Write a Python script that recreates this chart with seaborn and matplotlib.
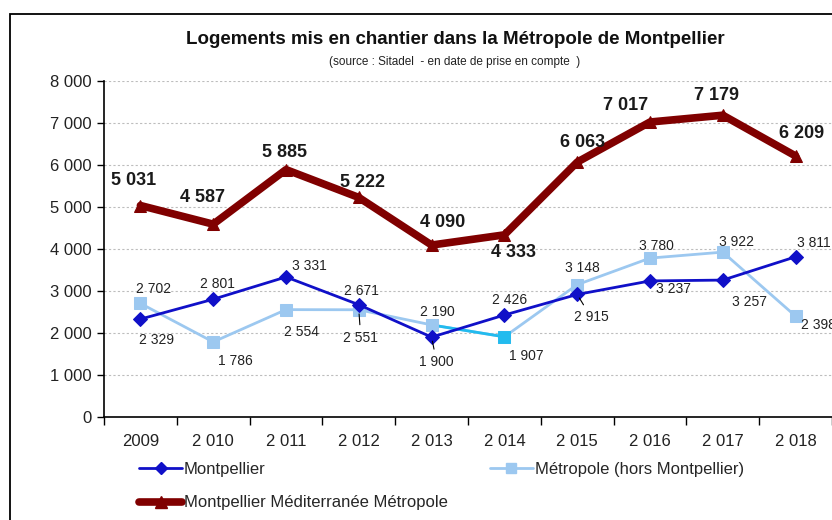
import matplotlib
matplotlib.use('Agg')
import matplotlib.pyplot as plt
from matplotlib.patches import Rectangle
from matplotlib.lines import Line2D
import seaborn as sns
import numpy as np

# Data
years = ["2009", "2010", "2011", "2012", "2013", "2014", "2015", "2016", "2017", "2018"]
year_labels = ["2009", "2 010", "2 011", "2 012", "2 013", "2 014", "2 015", "2 016", "2 017", "2 018"]
montpellier = [2329, 2801, 3331, 2671, 1900, 2426, 2915, 3237, 3257, 3811]
metropole_hors = [2702, 1786, 2554, 2551, 2190, 1907, 3148, 3780, 3922, 2398]
mmm = [5031, 4587, 5885, 5222, 4090, 4333, 6063, 7017, 7179, 6209]
y_ticks = [0, 1000, 2000, 3000, 4000, 5000, 6000, 7000, 8000]
y_tick_labels = ["0", "1 000", "2 000", "3 000", "4 000", "5 000", "6 000", "7 000", "8 000"]

# label offsets in pixels (dx, dy) and leader-line flags
off_mtp = [(16, -21), (4, 15), (23, 11), (3, 14), (5, -25), (5, 15), (14, -23), (23, -8), (27, -22), (18, 14)]
lead_mtp = [False, False, False, False, True, False, True, False, False, False]
off_met = [(13, 14), (22, -19), (16, -22), (2, -28), (6, 13), (22, -19), (5, 17), (6, 12), (14, 10), (23, -9)]
lead_met = [False, False, False, True, False, False, False, False, False, False]
off_mmm = [(-7, 25), (-11, 27), (-2, 17), (4, 15), (11, 23), (9, -18), (5, 20), (-24, 17), (-6, 20), (6, 22)]

c_mtp = '#1010C8'
c_met = '#9CC8F0'
c_cyan = '#22BBEE'
c_mmm = '#800000'


def fmt(v):
    return f"{v:,}".replace(",", " ")


sns.set_theme(style="white")
plt.rcParams['font.family'] = ['Liberation Sans Narrow', 'Liberation Sans', 'DejaVu Sans']

fig = plt.figure(figsize=(8.32, 5.2), dpi=100)
ax = fig.add_axes([104 / 832, 1 - 417 / 520, 1 - 104 / 832, (417 - 80.7) / 520])

x = np.arange(len(years))

sns.lineplot(x=x, y=mmm, ax=ax, color=c_mmm, lw=5.5, marker='^', markersize=9,
             markeredgecolor=c_mmm, zorder=4)
sns.lineplot(x=x, y=metropole_hors, ax=ax, color=c_met, lw=2, marker='s', markersize=8,
             markeredgecolor=c_met, zorder=2)
sns.lineplot(x=x[4:6], y=metropole_hors[4:6], ax=ax, color=c_cyan, lw=2, zorder=2.1)
sns.scatterplot(x=x[5:6], y=metropole_hors[5:6], ax=ax, color=c_cyan, marker='s', s=64,
                edgecolor=c_cyan, zorder=2.2)
sns.scatterplot(x=x[4:5], y=metropole_hors[4:5], ax=ax, color=c_met, marker='s', s=64,
                edgecolor=c_met, zorder=2.3)
sns.lineplot(x=x, y=montpellier, ax=ax, color=c_mtp, lw=2, marker='D', markersize=7,
             markeredgecolor=c_mtp, zorder=3)

for series, offs, leads in [(montpellier, off_mtp, lead_mtp), (metropole_hors, off_met, lead_met)]:
    for i, v in enumerate(series):
        ap = dict(arrowstyle='-', color='black', lw=0.8, shrinkA=2, shrinkB=3) if leads[i] else None
        ax.annotate(fmt(v), (x[i], v), xytext=offs[i], textcoords='offset pixels',
                    ha='center', va='center', fontsize=10, color='#222222',
                    arrowprops=ap, annotation_clip=False, zorder=6)
for i, v in enumerate(mmm):
    ax.annotate(fmt(v), (x[i], v), xytext=off_mmm[i], textcoords='offset pixels',
                ha='center', va='center', fontsize=13, fontweight='bold', color='#1a1a1a',
                annotation_clip=False, zorder=6)

ax.set_xlim(-0.5, len(years) - 0.5)
ax.set_ylim(0, 8000)
ax.set_yticks(y_ticks)
ax.set_yticklabels(y_tick_labels, fontsize=12, color='#222222')
ax.set_xticks(x)
ax.set_xticklabels(year_labels, fontsize=12, color='#222222')
ax.set_xticks(np.arange(-0.5, len(years)), minor=True)
ax.tick_params(axis='x', which='major', length=0, pad=12)
ax.tick_params(axis='x', which='minor', length=6, width=1, color='black', direction='out', bottom=True)
ax.tick_params(axis='y', length=5, width=1, color='black', direction='out', left=True, pad=4)
ax.yaxis.grid(True, color='#bdbdbd', linestyle=(0, (2, 2)), lw=0.8)
ax.set_axisbelow(True)
for s in ['top', 'right']:
    ax.spines[s].set_visible(False)
for s in ['left', 'bottom']:
    ax.spines[s].set_color('black')
    ax.spines[s].set_linewidth(1.2)
ax.set_xlabel('')
ax.set_ylabel('')

# outer frame of the chart area
fig.patches.append(Rectangle((10 / 832, -0.2), 1.2, 1 - 14 / 520 + 0.2, transform=fig.transFigure,
                             fill=False, ec='black', lw=1.3))

fig.text(455 / 832, 1 - 40 / 520, "Logements mis en chantier dans la Métropole de Montpellier",
         ha='center', va='center', fontsize=13.5, fontweight='bold', color='#111111')
fig.text(455 / 832, 1 - 62 / 520, "(source : Sitadel  - en date de prise en compte  )",
         ha='center', va='center', fontsize=8.5, color='#222222')

handles = [
    Line2D([], [], color=c_mtp, lw=2, marker='D', markersize=6),
    Line2D([], [], color=c_mmm, lw=5.5, marker='^', markersize=8),
    Line2D([], [], color=c_met, lw=2, marker='s', markersize=7),
]
labels = ["Montpellier", "Montpellier Méditerranée Métropole", "Métropole (hors Montpellier)"]
fig.legend(handles, labels, loc='upper left', bbox_to_anchor=(124 / 832, 1 - 447 / 520), ncol=2,
           frameon=False, fontsize=12, handlelength=2.6, handletextpad=0.1,
           columnspacing=2.5, labelspacing=1.1)

fig.savefig('out.png', dpi=100)
